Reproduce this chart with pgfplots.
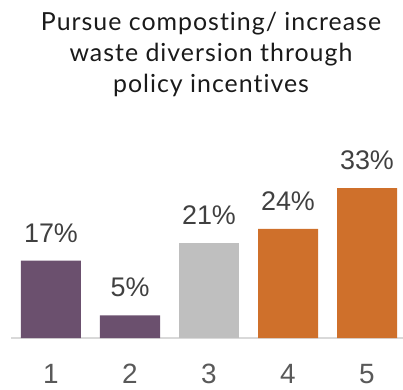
\documentclass[border=0pt]{standalone}
\usepackage{pgfplots}
\pgfplotsset{compat=1.18}
\usepackage{fontspec}
\setmainfont{Liberation Sans}
\newfontfamily\titlefont[Ligatures={NoCommon,NoRare},LetterSpace=4]{Lato}
\definecolor{cpurple}{HTML}{6B506E}
\definecolor{cgray}{HTML}{BFBFBF}
\definecolor{corange}{HTML}{CF702B}
\definecolor{ctitle}{HTML}{1A1A1A}
\definecolor{clabel}{HTML}{404040}
\definecolor{ctick}{HTML}{595959}
\definecolor{caxis}{HTML}{D9D9D9}
\begin{document}
\begin{tikzpicture}[x=1bp,y=1bp]
\useasboundingbox (0,0) rectangle (403,390);
\tikzset{tl/.style={anchor=base, text=ctitle, inner sep=0pt, font=\titlefont\fontsize{25}{25}\selectfont}}
\node[tl] at (211,360) {Pursue composting/ increase};
\node[tl] at (211,328.5) {waste diversion through};
\node[tl] at (211,297.5) {policy incentives};
\begin{axis}[
  at={(11bp,52bp)}, anchor=south west,
  scale only axis, width=392bp, height=181.8bp,
  xmin=0.4937, xmax=5.4557, ymin=0, ymax=40,
  /pgf/number format/assume math mode=true,
  axis y line=none, axis x line=bottom,
  x axis line style={-, draw=caxis, line width=1.5bp},
  xtick={1,2,3,4,5}, ytick=\empty,
  major tick length=0pt,
  xticklabel style={anchor=base, yshift=-45.3bp, text=ctick, font=\fontsize{28}{28}\selectfont},
  ybar, bar width=60bp, bar shift=0pt,
  clip=false,
  nodes near coords={\pgfmathprintnumber{\pgfplotspointmeta}\%},
  nodes near coords style={anchor=base, yshift=18.5bp, inner sep=0pt, text=clabel, font=\fontsize{27}{27}\selectfont},
]
\addplot[fill=cpurple, draw=none] coordinates {(1,17) (2,5)};
\addplot[fill=cgray, draw=none] coordinates {(3,21)};
\addplot[fill=corange, draw=none] coordinates {(4,24) (5,33)};
\end{axis}
\end{tikzpicture}
\end{document}
